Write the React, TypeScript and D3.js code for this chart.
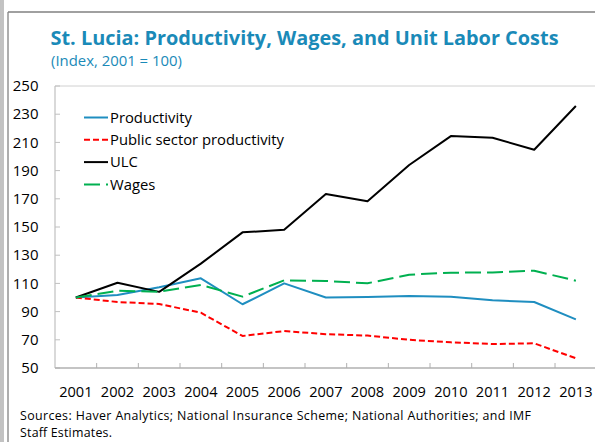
import React from "react";
import * as d3 from "d3";

const years = ["2001","2002","2003","2004","2005","2006","2007","2008","2009","2010","2011","2012","2013"];
const productivity = [100, 101.8, 107.2, 113.6, 95.2, 110, 100, 100.4, 101, 100.6, 98, 96.8, 84.5];
const publicSector = [100, 96.8, 95.4, 89.2, 72.7, 76.2, 74, 73, 70, 68.2, 67, 67.5, 56.9];
const ulc = [100, 110.5, 104, 124, 146.2, 148, 173.4, 168.2, 194, 214.5, 213.3, 204.8, 235.8];
const wages = [100, 104.8, 104.1, 108.9, 100.6, 112.2, 111.7, 110.1, 116.2, 117.6, 117.8, 119, 111.9];
const yTicks = [50, 70, 90, 110, 130, 150, 170, 190, 210, 230, 250];

const seriesList = [
  { name: "Productivity", values: productivity, color: "#1f8ec0", dash: "none" },
  { name: "Public sector productivity", values: publicSector, color: "#ff0000", dash: "6,3" },
  { name: "ULC", values: ulc, color: "#000000", dash: "none" },
  { name: "Wages", values: wages, color: "#00b050", dash: "16,6" },
];

const W = 595, H = 442;
const FONT = "'Open Sans', 'Noto Sans', sans-serif";
const BLUE = "#1a8ab8";

export default function App() {
  const x = d3.scaleBand<string>().domain(years).range([55, 596.7]);
  const y = d3.scaleLinear().domain([50, 250]).range([368, 86]);
  const line = d3.line<number>()
    .x((_, i) => (x(years[i]) as number) + x.bandwidth() / 2)
    .y((d) => y(d));

  return (
    <svg width={W} height={H} style={{ position: "absolute", left: 0, top: 0, background: "#fff" }} fontFamily={FONT}>
      <rect x={0} y={0} width={W} height={H} fill="#fff" />
      {/* outer frame */}
      <line x1={1} y1={0} x2={1} y2={H} stroke="#9a9a9a" strokeWidth={1.2} />
      <line x1={3} y1={0} x2={3} y2={H} stroke="#9a9a9a" strokeWidth={1.2} />
      <line x1={8} y1={12} x2={8} y2={H} stroke="#8c8c8c" strokeWidth={1.4} />
      <line x1={8} y1={12} x2={W} y2={12} stroke="#808080" strokeWidth={1.6} />

      {/* title */}
      <text x={50.5} y={45} fill={BLUE} fontWeight={700} fontSize={19.9}>
        St. Lucia: Productivity, Wages, and Unit Labor Costs
      </text>
      <text x={51} y={66} fill={BLUE} fontSize={14.9}>(Index, 2001 = 100)</text>

      {/* plot frame */}
      <line x1={55} y1={y(250)} x2={W} y2={y(250)} stroke="#d0d0d0" strokeWidth={1} />
      <line x1={55} y1={y(250)} x2={55} y2={y(50)} stroke="#c0c0c0" strokeWidth={1.2} />
      {yTicks.map((t) => (
        <g key={t}>
          <line x1={55} x2={60} y1={y(t)} y2={y(t)} stroke="#c0c0c0" strokeWidth={1} />
          <text x={38.5} y={y(t) + 5.2} textAnchor="end" fontSize={15} fill="#000">{t}</text>
        </g>
      ))}
      <line x1={55} y1={y(50)} x2={W} y2={y(50)} stroke="#b0b0b0" strokeWidth={1.6} />
      {years.map((yr, i) => (
        <g key={yr}>
          {i > 0 && (
            <line x1={x(yr) as number} x2={x(yr) as number} y1={y(50)} y2={y(50) - 5} stroke="#b0b0b0" strokeWidth={1} />
          )}
          <text x={(x(yr) as number) + x.bandwidth() / 2} y={397} textAnchor="middle" fontSize={14.6} fill="#000">{yr}</text>
        </g>
      ))}

      {/* series */}
      {seriesList.map((s) => (
        <path key={s.name} d={line(s.values) || ""} fill="none" stroke={s.color} strokeWidth={2}
          strokeDasharray={s.dash === "none" ? undefined : s.dash} strokeLinejoin="round" />
      ))}

      {/* legend */}
      {seriesList.map((s, i) => {
        const ly = 117.5 + i * 22.3;
        return (
          <g key={s.name}>
            <line x1={84} x2={108} y1={ly} y2={ly} stroke={s.color} strokeWidth={2}
              strokeDasharray={s.dash === "none" ? undefined : s.dash} />
            <text x={110} y={ly + 5.2} fontSize={14.8} fill="#000">{s.name}</text>
          </g>
        );
      })}

      {/* source */}
      <text x={20} y={419.5} fontSize={12.4} fill="#000" textLength={511} lengthAdjust="spacing">
        Sources: Haver Analytics; National Insurance Scheme; National Authorities; and IMF
      </text>
      <text x={20} y={437} fontSize={12.4} fill="#000" textLength={92} lengthAdjust="spacing">Staff Estimates.</text>
    </svg>
  );
}
